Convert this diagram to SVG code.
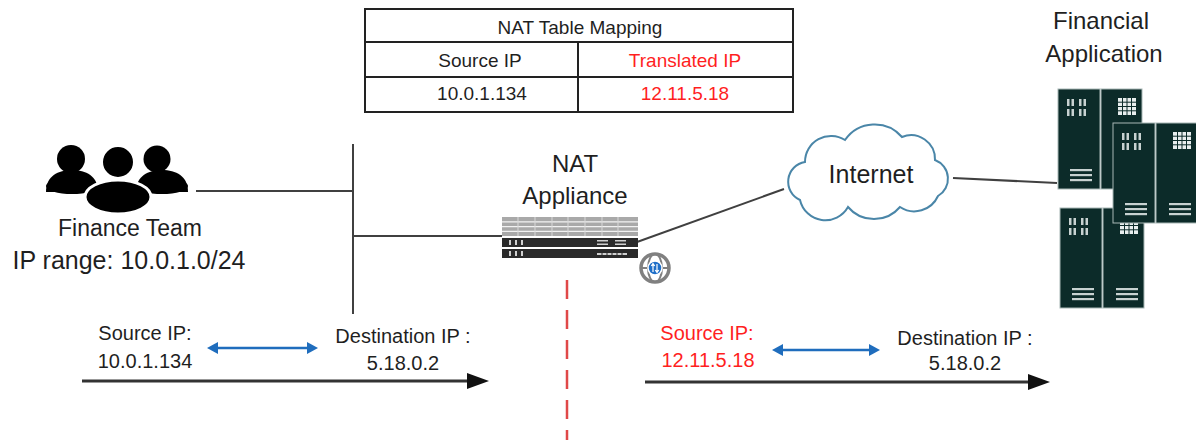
<svg xmlns="http://www.w3.org/2000/svg" width="1196" height="440" viewBox="0 0 1196 440">
  <style>
    text { font-family: "Liberation Sans", Arial, sans-serif; fill: #1f1f1f; text-anchor: middle; }
    .t19 { font-size: 19px; }
    .t20 { font-size: 20px; }
    .big { font-size: 24px; }
    .red { fill: #ff1f1f; }
    .wire { stroke: #404040; stroke-width: 2; fill: none; }
    .flow { stroke: #333; stroke-width: 3; fill: none; marker-end: url(#head); }
    .swap { stroke: #1f6dbd; stroke-width: 2.5; fill: none; marker-start: url(#bhead); marker-end: url(#bhead); }
    .cell { fill: none; stroke: #222; stroke-width: 2; }
    .cab { fill: #0c2b29; stroke: #a8b8b6; stroke-width: 1; }
    .det { fill: #c8d2d1; }
    .grid { stroke: #0c2b29; stroke-width: 1; }
  </style>
  <defs>
    <marker id="head" viewBox="0 0 22 16" refX="2" refY="8" markerWidth="22" markerHeight="16" markerUnits="userSpaceOnUse" orient="auto">
      <path d="M0,0 L22,8 L0,16 z" fill="#111"/>
    </marker>
    <marker id="bhead" viewBox="0 0 11 12" refX="1" refY="6" markerWidth="11" markerHeight="12" markerUnits="userSpaceOnUse" orient="auto-start-reverse">
      <path d="M0,0 L11,6 L0,12 z" fill="#1f6dbd"/>
    </marker>
    <!-- pair of server cabinets -->
    <g id="rack">
      <rect class="cab" x="0" y="0" width="42" height="100"/>
      <rect class="cab" x="43" y="0" width="41" height="100"/>
      <g class="det">
        <rect x="9" y="10" width="2.5" height="7"/>
        <rect x="13.5" y="10" width="2.5" height="7"/>
        <rect x="21" y="10" width="2.5" height="7"/>
        <rect x="25.5" y="10" width="2.5" height="7"/>
        <rect x="9" y="20" width="2.5" height="7"/>
        <rect x="13.5" y="20" width="2.5" height="7"/>
        <rect x="21" y="20" width="2.5" height="7"/>
        <rect x="25.5" y="20" width="2.5" height="7"/>
        <rect x="12" y="80" width="22" height="2.2"/>
        <rect x="12" y="85" width="22" height="2.2"/>
        <rect x="12" y="90" width="22" height="2.2"/>
        <rect x="56" y="80" width="22" height="2.2"/>
        <rect x="56" y="85" width="22" height="2.2"/>
        <rect x="56" y="90" width="22" height="2.2"/>
      </g>
      <rect x="60" y="9" width="18" height="17" fill="#e8eeee"/>
      <path class="grid" d="M64.5,9 V26 M69,9 V26 M73.5,9 V26 M60,13.2 H78 M60,17.5 H78 M60,21.8 H78"/>
    </g>
  </defs>

  <rect width="1196" height="440" fill="#ffffff"/>

  <!-- wiring and flows -->
  <g id="connectors">
    <line class="wire" x1="196" y1="191" x2="353" y2="191"/>
    <line class="wire" x1="353" y1="144" x2="353" y2="314" stroke="#222"/>
    <line class="wire" x1="353" y1="236" x2="502" y2="236"/>
    <line class="wire" x1="637" y1="242" x2="784" y2="189" stroke="#222"/>
    <line class="wire" x1="953" y1="178" x2="1057" y2="183" stroke="#222"/>
    <line x1="567" y1="280" x2="567" y2="440" stroke="#e04848" stroke-width="2.5" stroke-dasharray="19 11"/>
    <line class="flow" x1="82" y1="381" x2="469" y2="381"/>
    <line class="flow" x1="645" y1="382" x2="1030" y2="382"/>
    <line class="swap" x1="217" y1="348" x2="308" y2="348"/>
    <line class="swap" x1="782" y1="350" x2="870" y2="350"/>
  </g>

  <!-- NAT mapping table -->
  <g id="nat-table">
    <rect class="cell" x="365" y="9" width="428" height="103"/>
    <line class="cell" x1="365" y1="42" x2="793" y2="42"/>
    <line class="cell" x1="365" y1="77" x2="793" y2="77"/>
    <line class="cell" x1="578" y1="42" x2="578" y2="112"/>
    <text class="t19" x="580" y="34">NAT Table Mapping</text>
    <text class="t19" x="480" y="67">Source IP</text>
    <text class="t19 red" x="685" y="67">Translated IP</text>
    <text class="t19" x="482" y="100">10.0.1.134</text>
    <text class="t19 red" x="685" y="100">12.11.5.18</text>
  </g>

  <!-- Finance team -->
  <g id="finance-team">
    <path d="M46,192 C46,176 58,170 72,170 C86,170 98,176 98,192 Z" fill="#000"/>
    <path d="M136,192 C136,176 148,170 162,170 C176,170 188,176 188,192 Z" fill="#000"/>
    <ellipse cx="72" cy="186" rx="26" ry="8" fill="#000"/>
    <ellipse cx="162" cy="186" rx="26" ry="8" fill="#000"/>
    <circle cx="71" cy="159" r="14" fill="#000"/>
    <circle cx="157" cy="159" r="13.5" fill="#000"/>
    <ellipse cx="118" cy="197" rx="33" ry="17" fill="#000" stroke="#fff" stroke-width="3"/>
    <circle cx="118" cy="162" r="16.5" fill="#000" stroke="#fff" stroke-width="3"/>
    <text x="130" y="236" style="font-size:23px">Finance Team</text>
    <text x="129" y="269" style="font-size:25px">IP range: 10.0.1.0/24</text>
  </g>

  <!-- NAT appliance -->
  <g id="nat-appliance">
    <text class="big" x="575" y="172">NAT</text>
    <text class="big" x="575" y="204">Appliance</text>
    <rect x="502" y="217" width="136" height="19" fill="#a9a9a9"/>
    <path d="M502,221.8 H638 M502,226.6 H638 M502,231.4 H638" stroke="#f2f2f2" stroke-width="1.3"/>
    <path d="M518,217 V236 M535,217 V236 M552,217 V236 M568,217 V236 M585,217 V236 M602,217 V236 M618,217 V236" stroke="#d8d8d8" stroke-width="1"/>
    <rect x="502" y="238" width="136" height="9" fill="#2a2a2a"/>
    <rect x="502" y="249" width="136" height="9" fill="#2a2a2a"/>
    <g fill="#d0d0d0">
      <rect x="509" y="240" width="2" height="5"/>
      <rect x="515" y="240" width="2" height="5"/>
      <rect x="521" y="240" width="2" height="5"/>
      <rect x="509" y="251" width="2" height="5"/>
      <rect x="515" y="251" width="2" height="5"/>
      <rect x="521" y="251" width="2" height="5"/>
      <rect x="597" y="240" width="11" height="1.5"/>
      <rect x="597" y="243.5" width="11" height="1.5"/>
      <rect x="615" y="240" width="11" height="1.5"/>
      <rect x="615" y="243.5" width="11" height="1.5"/>
      <rect x="597" y="253" width="30" height="2"/>
    </g>
    <path d="M602,253 V255 M607,253 V255 M612,253 V255 M617,253 V255 M622,253 V255" stroke="#2a2a2a" stroke-width="1"/>
    <!-- globe badge -->
    <circle cx="655" cy="268" r="14" fill="#fff" stroke="#808080" stroke-width="3.5"/>
    <ellipse cx="655" cy="268" rx="7" ry="14" fill="none" stroke="#808080" stroke-width="2"/>
    <line x1="641" y1="268" x2="669" y2="268" stroke="#808080" stroke-width="2"/>
    <circle cx="655" cy="268" r="7" fill="#1f6fc8" stroke="#fff" stroke-width="1.5"/>
    <path d="M653,264 V272 M651.3,266 L653,263.5 L654.7,266 M657,264 V272 M655.3,270 L657,272.5 L658.7,270" stroke="#fff" stroke-width="1.2" fill="none"/>
  </g>

  <!-- Internet cloud -->
  <g id="internet">
    <path d="M800,200 A20,20 0 0 1 805,162 A26,26 0 0 1 845,140 A36,36 0 0 1 902,137 A24,24 0 0 1 935,160 A20,20 0 0 1 938,196 A26,26 0 0 1 900,207 A34,34 0 0 1 848,207 A26,26 0 0 1 800,200 Z" fill="#fff" stroke="#4a86a8" stroke-width="2"/>
    <text x="871" y="183" style="font-size:25px">Internet</text>
  </g>

  <!-- Financial application servers -->
  <g id="financial-application">
    <text class="big" x="1101" y="29">Financial</text>
    <text class="big" x="1104" y="62">Application</text>
    <use href="#rack" x="1058" y="89"/>
    <use href="#rack" x="1060" y="208"/>
    <use href="#rack" x="1113" y="123"/>
  </g>

  <!-- packet headers before translation -->
  <g id="packet-inside">
    <text class="t20" x="145" y="340">Source IP:</text>
    <text class="t20" x="145" y="368">10.0.1.134</text>
    <text class="t20" x="403" y="343">Destination IP :</text>
    <text class="t20" x="403" y="370">5.18.0.2</text>
  </g>

  <!-- packet headers after translation -->
  <g id="packet-outside">
    <text class="t20 red" x="707" y="340">Source IP:</text>
    <text class="t20 red" x="708" y="367">12.11.5.18</text>
    <text class="t20" x="965" y="345">Destination IP :</text>
    <text class="t20" x="965" y="370">5.18.0.2</text>
  </g>
</svg>
